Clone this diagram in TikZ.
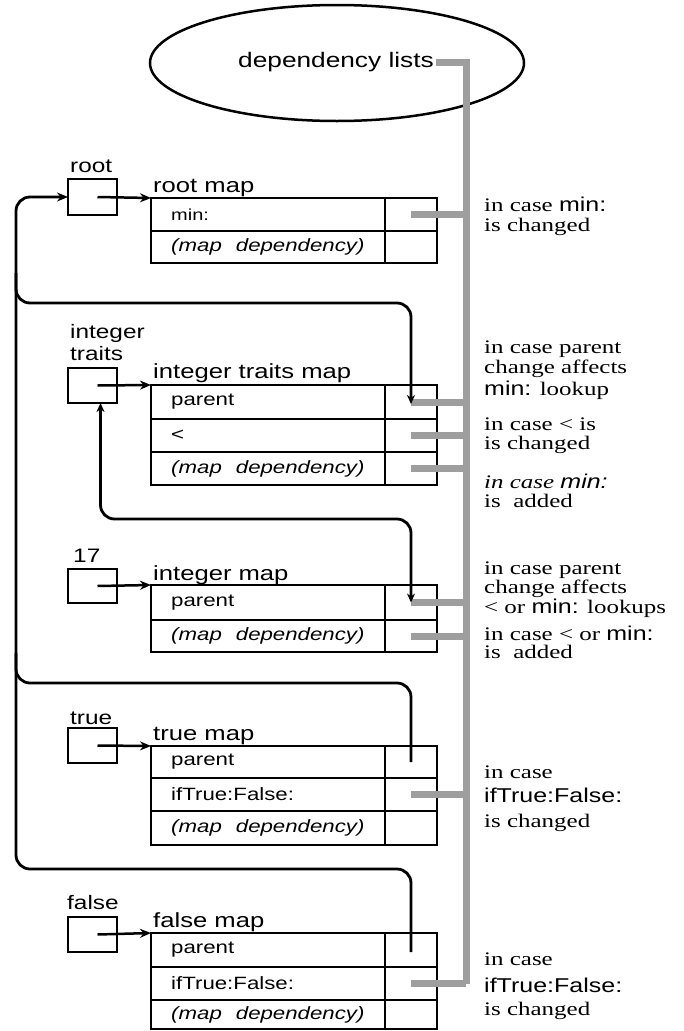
\documentclass[tikz,border=0pt]{standalone}
\usepackage{fontspec}
\usetikzlibrary{arrows.meta,shapes.geometric,calc}
\newfontfamily\sfl[FakeStretch=1.25]{Liberation Sans}
\newfontfamily\srl[FakeStretch=1.3]{Liberation Serif}
\newcommand\sfw[1]{{\sfl\fontsize{20}{22}\selectfont #1}}
\newcommand\mrow[4]{%
  \node[tbl, minimum width=234pt, minimum height={#3-#2}] (#1k) at (151,#2) {};
  \node[tbl, minimum width=52pt, minimum height={#3-#2}] (#1v) at (385,#2) {};
  \node[rowtxt] (#1t) at ([xshift=20pt]#1k.west) {#4};
}
\begin{document}
\begin{tikzpicture}[x=1pt,y=-1pt,
  tbl/.style={draw, line width=2pt, inner sep=0pt, outer sep=0pt, anchor=north west},
  obox/.style={draw, line width=2pt, minimum width=49pt, minimum height=35pt, inner sep=0pt, outer sep=0pt, anchor=north west},
  conn/.style={line width=2.8pt, rounded corners=14pt},
  ptr/.style={line width=2.5pt, -{Stealth[length=11pt,width=9pt]}},
  tipd/.tip={Stealth[length=9pt,width=8pt]},
  gline/.style={line width=7pt, black!38},
  rowtxt/.style={font=\sfl\fontsize{17.8}{20}\selectfont, anchor=west, inner sep=0pt},
  maplab/.style={font=\sfl\fontsize{20.5}{22}\selectfont, anchor=base west, inner sep=0pt},
  boxlab/.style={font=\sfl\fontsize{19.5}{21}\selectfont, anchor=base west, inner sep=0pt},
  note/.style={font=\srl\fontsize{19.2}{21}\selectfont, anchor=base west, inner sep=0pt}]
\useasboundingbox (0,0) rectangle (683,1031);

% dependency lists
\node[draw, ellipse, line width=2.5pt, minimum width=374pt, minimum height=116pt] (deps) at (337,63) {};
\node[font=\sfl\fontsize{21}{24}\selectfont, inner sep=0pt] (deptext) at (336,62) {dependency\ lists};

% object boxes and labels
\node[obox, minimum height=36pt] (rootbox) at (68,179) {};
\node[obox] (itbox) at (68,368) {};
\node[obox, minimum height=34pt] (ibox) at (68,569) {};
\node[obox] (tbox) at (68,728) {};
\node[obox] (fbox) at (68,917) {};
\node[boxlab] (rootlab) at (70,172) {root};
\node[boxlab] (itlab1) at (70,338) {integer};
\node[boxlab] (itlab2) at (70,360) {traits};
\node[boxlab] (ilab) at (73,562) {17};
\node[boxlab] (tlab) at (70,724) {true};
\node[boxlab] (flab) at (67,909) {false};

% map labels
\node[maplab] (rml) at (153,192) {root map};
\node[maplab] (itml) at (153,378) {integer traits map};
\node[maplab] (iml) at (153,580) {integer\ map};
\node[maplab] (tml) at (153,740) {true\ map};
\node[maplab] (fml) at (153,927) {false\ map};

% tables
\mrow{rm1}{198}{231}{\fontsize{16}{18}\selectfont min:}
\mrow{rm2}{231}{263}{\itshape (map\hspace{14pt}dependency)}
\mrow{itm1}{385}{419}{parent}
\mrow{itm2}{419}{452}{<}
\mrow{itm3}{452}{485}{\itshape (map\hspace{14pt}dependency)}
\mrow{im1}{585}{620}{parent}
\mrow{im2}{620}{652}{\itshape (map\hspace{14pt}dependency)}
\mrow{tm1}{746}{778}{parent}
\mrow{tm2}{778}{811}{ifTrue:False:}
\mrow{tm3}{811}{845}{\itshape (map\hspace{14pt}dependency)}
\mrow{fm1}{933}{967}{parent}
\mrow{fm2}{967}{1000}{ifTrue:False:}
\mrow{fm3}{1000}{1029}{\itshape (map\hspace{14pt}dependency)}

% gray dependency lines
\coordinate (gx) at (466,0);
\draw[gline] ([xshift=2pt]deptext.east) -| (gx |- fm2v.center);
\foreach \c in {rm1v,itm1v,itm2v,itm3v,im1v,im2v,tm2v,fm2v}
  \draw[gline] (\c.center) -- (\c.center -| gx);

% box to map arrows
\draw[ptr] ([xshift=5pt]rootbox.center) -- (rm1k.north west);
\draw[ptr] ([xshift=5pt]itbox.center) -- (itm1k.north west);
\draw[ptr] ([xshift=5pt]ibox.center) -- (im1k.north west);
\draw[ptr] ([xshift=5pt]tbox.center) -- (tm1k.north west);
\draw[ptr] ([xshift=5pt]fbox.center) -- (fm1k.north west);

% parent connectors
\coordinate (lx) at (16,0);
\coordinate (b1) at (16,303);
\coordinate (b2) at (16,683);
\coordinate (b3) at (16,869);
\coordinate (hline) at (200,519);
\draw[conn, {Stealth[length=11pt,width=9pt]}-] (rootbox.west) -- (rootbox.west -| lx) -- (b3) -| ([yshift=-2pt]fm1v.center);
\draw[conn, -tipd] ([yshift=30pt]b1) -- (b1) -| ([yshift=-2pt]itm1v.center);
\draw[conn] ([yshift=30pt]b2) -- (b2) -| (tm1v.center);
\draw[conn, tipd-tipd] (im1v.center) |- (hline) -| ([xshift=8pt]itbox.south);

% notes
\node[note] (n1a) at (484,211) {in case \sfw{min:}};
\node[note] (n1b) at (484,231) {is changed};
\node[note] (n2a) at (484,353) {in case parent};
\node[note] (n2b) at (484,373) {change affects};
\node[note] (n2c) at (484,395) {\sfw{min:} lookup};
\node[note] (n3a) at (484,430) {in case < is};
\node[note] (n3b) at (484,449) {is changed};
\node[note] (n4a) at (484,488) {\itshape in case \sfw{\itshape min:}};
\node[note] (n4b) at (484,507) {is\ \ added};
\node[note] (n5a) at (484,574) {in case parent};
\node[note] (n5b) at (484,593) {change affects};
\node[note] (n5c) at (484,613) {< or \sfw{min:} lookups};
\node[note] (n6a) at (484,640) {in case < or \sfw{min:}};
\node[note] (n6b) at (484,658) {is\ \ added};
\node[note] (n7a) at (484,778) {in case};
\node[note] (n7b) at (484,802) {\sfw{ifTrue:False:}};
\node[note] (n7c) at (484,827) {is changed};
\node[note] (n8a) at (484,965) {in case};
\node[note] (n8b) at (484,992) {\sfw{ifTrue:False:}};
\node[note] (n8c) at (484,1015) {is changed};
\end{tikzpicture}
\end{document}
